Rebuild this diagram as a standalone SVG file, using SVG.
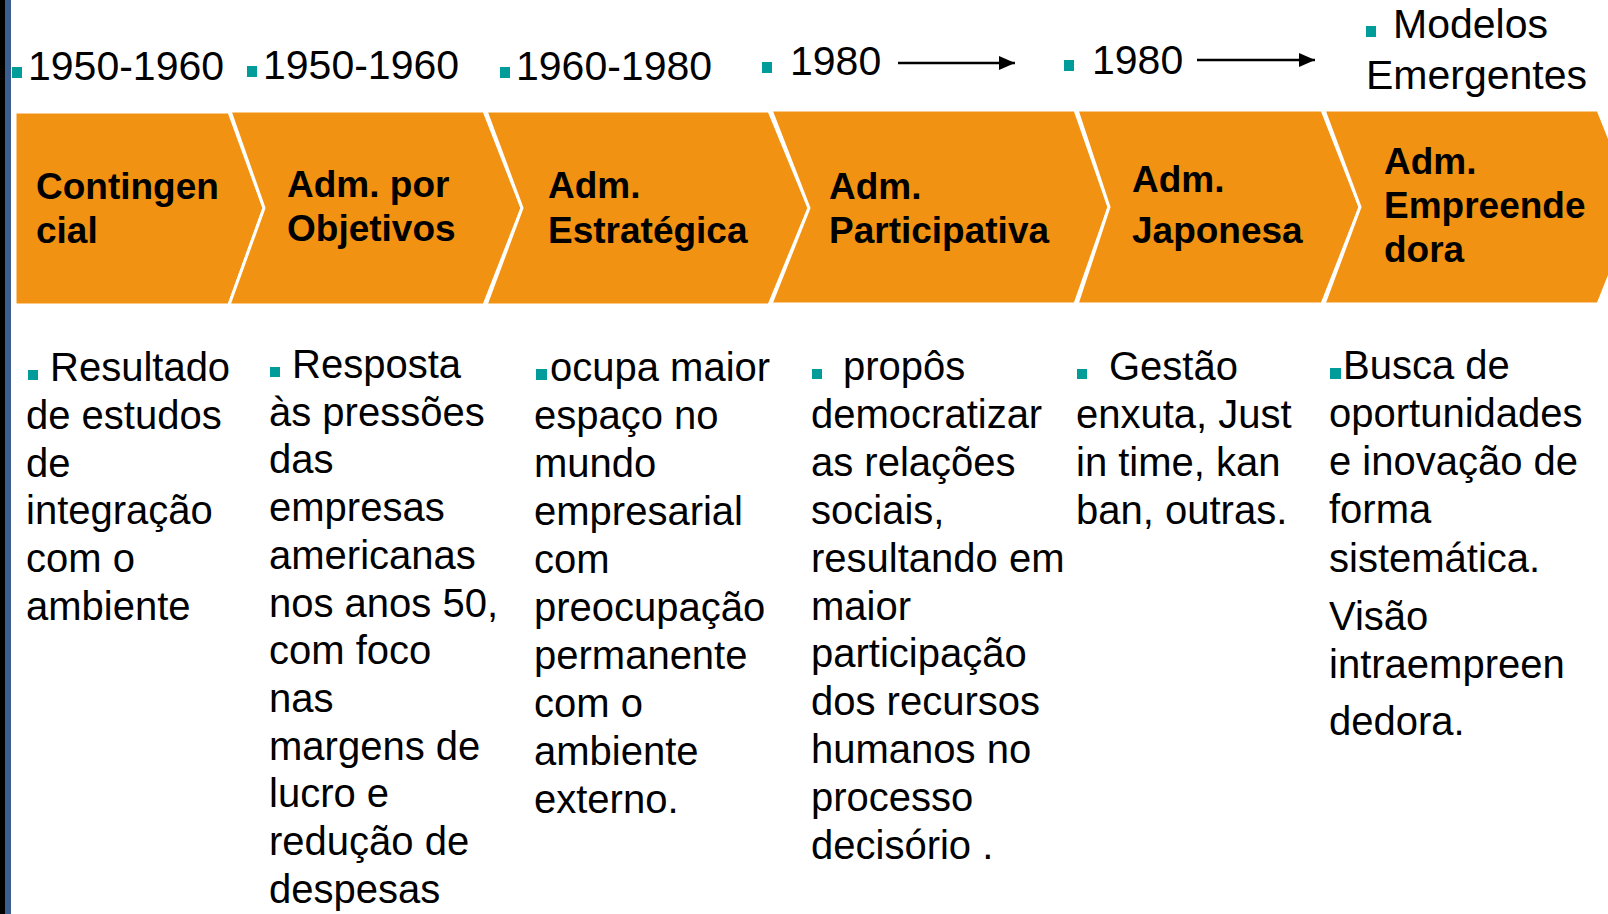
<svg xmlns="http://www.w3.org/2000/svg" width="1608" height="914" viewBox="0 0 1608 914">
<style>
.chev{fill:#F19212;stroke:#FFFFFF;stroke-width:3;stroke-linejoin:miter}
.lbl{font-family:"Liberation Sans",Arial,sans-serif;font-weight:bold;font-size:37px;fill:#000}
.yr{font-family:"Liberation Sans",Arial,sans-serif;font-size:41px;fill:#000}
.body{font-family:"Liberation Sans",Arial,sans-serif;font-size:40px;fill:#000}
.bul{fill:#009C99}
.arr{stroke:#000;stroke-width:2.5;fill:none}
</style>
<defs>
<marker id="ah" viewBox="0 0 16 14" refX="16" refY="7" markerWidth="16" markerHeight="14" markerUnits="userSpaceOnUse" orient="auto">
<polygon points="0,0 16,7 0,14" fill="#000"/>
</marker>
</defs>
<rect x="0" y="0" width="1608" height="914" fill="#FFFFFF"/>
<rect x="0" y="0" width="5" height="914" fill="#000000"/>
<rect x="5" y="0" width="6" height="914" fill="#3B5E90"/>

<g id="year-labels">
<rect class="bul" x="12" y="67" width="10" height="11"/>
<text class="yr" x="28" y="80">1950-1960</text>
<rect class="bul" x="247" y="66" width="10" height="11"/>
<text class="yr" x="263" y="79">1950-1960</text>
<rect class="bul" x="500" y="67" width="10" height="11"/>
<text class="yr" x="516" y="80">1960-1980</text>
<rect class="bul" x="762" y="62" width="10" height="11"/>
<text class="yr" x="790" y="75">1980</text>
<rect class="bul" x="1064" y="60" width="10" height="11"/>
<text class="yr" x="1092" y="74">1980</text>
<rect class="bul" x="1366" y="26" width="10" height="11"/>
<text class="yr" x="1393" y="38">Modelos</text>
<text class="yr" x="1366" y="89">Emergentes</text>
</g>

<g id="connectors">
<line class="arr" x1="898" y1="63" x2="1015" y2="63" marker-end="url(#ah)"/>
<line class="arr" x1="1197" y1="60" x2="1315" y2="60" marker-end="url(#ah)"/>
</g>

<g id="node-contingencial">
<polygon class="chev" points="15,112 229,112 264,208 229,305 15,305"/>
<text class="lbl" x="36" y="199">Contingen<tspan x="36" y="243">cial</tspan></text>
</g>
<g id="node-objetivos">
<polygon class="chev" points="230,111 484,111 522,208 484,305 229,305 264,208"/>
<text class="lbl" x="287" y="197">Adm. por<tspan x="287" y="241">Objetivos</tspan></text>
</g>
<g id="node-estrategica">
<polygon class="chev" points="486,111 769,111 809,208 769,305 486,305 522,208"/>
<text class="lbl" x="548" y="198">Adm.<tspan x="548" y="243">Estratégica</tspan></text>
</g>
<g id="node-participativa">
<polygon class="chev" points="771,110 1075,110 1109,207 1075,304 771,304 809,208"/>
<text class="lbl" x="829" y="199">Adm.<tspan x="829" y="243">Participativa</tspan></text>
</g>
<g id="node-japonesa">
<polygon class="chev" points="1077,110 1322,110 1360,207 1322,304 1077,304 1109,207"/>
<text class="lbl" x="1132" y="192">Adm.<tspan x="1132" y="243">Japonesa</tspan></text>
</g>
<g id="node-empreendedora">
<polygon class="chev" points="1324,110 1598,110 1637,207 1598,304 1324,304 1360,207"/>
<text class="lbl" x="1384" y="174">Adm.<tspan x="1384" y="218">Empreende</tspan><tspan x="1384" y="262">dora</tspan></text>
</g>

<g id="desc-contingencial">
<rect class="bul" x="28" y="370" width="10" height="10"/>
<text class="body" x="50" y="381">Resultado<tspan x="26" y="428.8">de estudos</tspan><tspan x="26" y="476.6">de</tspan><tspan x="26" y="524.4">integração</tspan><tspan x="26" y="572.2">com o</tspan><tspan x="26" y="620">ambiente</tspan></text>
</g>
<g id="desc-objetivos">
<rect class="bul" x="270" y="367" width="10" height="10"/>
<text class="body" x="292" y="378">Resposta<tspan x="269" y="425.7">às pressões</tspan><tspan x="269" y="473.4">das</tspan><tspan x="269" y="521.1">empresas</tspan><tspan x="269" y="568.8">americanas</tspan><tspan x="269" y="616.5">nos anos 50,</tspan><tspan x="269" y="664.2">com foco</tspan><tspan x="269" y="711.9">nas</tspan><tspan x="269" y="759.6">margens de</tspan><tspan x="269" y="807.3">lucro e</tspan><tspan x="269" y="855">redução de</tspan><tspan x="269" y="902.7">despesas</tspan></text>
</g>
<g id="desc-estrategica">
<rect class="bul" x="536" y="369" width="11" height="11"/>
<text class="body" x="550" y="381">ocupa maior<tspan x="534" y="429">espaço no</tspan><tspan x="534" y="477">mundo</tspan><tspan x="534" y="525">empresarial</tspan><tspan x="534" y="573">com</tspan><tspan x="534" y="621">preocupação</tspan><tspan x="534" y="669">permanente</tspan><tspan x="534" y="717">com o</tspan><tspan x="534" y="765">ambiente</tspan><tspan x="534" y="813">externo.</tspan></text>
</g>
<g id="desc-participativa">
<rect class="bul" x="812" y="369" width="10" height="10"/>
<text class="body" x="843" y="380">propôs<tspan x="811" y="427.9">democratizar</tspan><tspan x="811" y="475.8">as relações</tspan><tspan x="811" y="523.7">sociais,</tspan><tspan x="811" y="571.6">resultando em</tspan><tspan x="811" y="619.5">maior</tspan><tspan x="811" y="667.4">participação</tspan><tspan x="811" y="715.3">dos recursos</tspan><tspan x="811" y="763.2">humanos no</tspan><tspan x="811" y="811.1">processo</tspan><tspan x="811" y="859">decisório .</tspan></text>
</g>
<g id="desc-japonesa">
<rect class="bul" x="1077" y="369" width="10" height="10"/>
<text class="body" x="1109" y="380">Gestão<tspan x="1076" y="428">enxuta, Just</tspan><tspan x="1076" y="476">in time, kan</tspan><tspan x="1076" y="524">ban, outras.</tspan></text>
</g>
<g id="desc-empreendedora">
<rect class="bul" x="1330" y="368" width="11" height="11"/>
<text class="body" x="1343" y="379">Busca de<tspan x="1329" y="427">oportunidades</tspan><tspan x="1329" y="475">e inovação de</tspan><tspan x="1329" y="523">forma</tspan><tspan x="1329" y="572">sistemática.</tspan><tspan x="1329" y="630">Visão</tspan><tspan x="1329" y="678">intraempreen</tspan><tspan x="1329" y="735">dedora.</tspan></text>
</g>
</svg>
